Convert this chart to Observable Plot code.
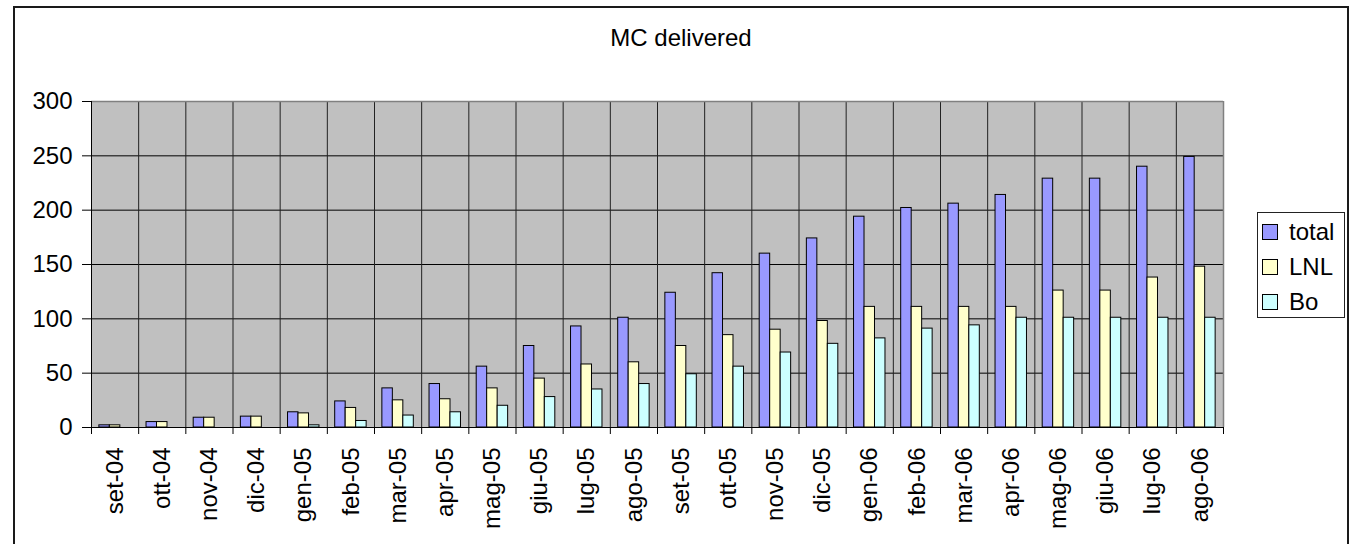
<!DOCTYPE html>
<html>
<head>
<meta charset="utf-8">
<script src="https://cdn.jsdelivr.net/npm/d3@7"></script>
<script src="https://cdn.jsdelivr.net/npm/@observablehq/plot@0.6"></script>
<style>
  html, body { margin: 0; padding: 0; background: #fff; }
  #wrap { position: relative; width: 1349px; height: 544px; overflow: hidden; font-family: "Liberation Sans", Arial, sans-serif; }
  #border { position: absolute; left: 13px; top: 6px; width: 1336px; height: 600px; box-sizing: border-box; border: 2px solid #1a1a1a; border-bottom: none; pointer-events: none; }
  #title { position: absolute; left: 0; top: 26px; width: 1362px; text-align: center; font-size: 24px; line-height: 24px; color: #000; }
  #legend { position: absolute; left: 1257px; top: 212px; width: 88px; height: 106px; box-sizing: border-box; border: 1px solid #222; background: #fff; padding-top: 1px; }
  .row { display: flex; align-items: center; height: 35px; font-size: 24px; color: #000; }
  .sw { width: 14px; height: 14px; border: 1px solid #000; margin-left: 4px; margin-right: 11px; }
  #chart { position: absolute; left: 0; top: 0; }
</style>
</head>
<body>
<div id="wrap">
  <div id="chart"></div>
  <div id="border"></div>
  <div id="title"></div>
  <div id="legend"></div>
</div>
<script>
const titleText = "MC delivered";
const months = ["set-04","ott-04","nov-04","dic-04","gen-05","feb-05","mar-05","apr-05","mag-05","giu-05","lug-05","ago-05","set-05","ott-05","nov-05","dic-05","gen-06","feb-06","mar-06","apr-06","mag-06","giu-06","lug-06","ago-06"];
const seriesNames = ["total", "LNL", "Bo"];
const seriesColors = ["#9999FF", "#FFFFCC", "#CCFFFF"];
const total = [2, 5, 9, 10, 14, 24, 36, 40, 56, 75, 93, 101, 124, 142, 160, 174, 194, 202, 206, 214, 229, 229, 240, 249];
const lnl   = [2, 5, 9, 10, 13, 18, 25, 26, 36, 45, 58, 60, 75, 85, 90, 98, 111, 111, 111, 111, 126, 126, 138, 148];
const bo    = [0, 0, 0, 0, 2, 6, 11, 14, 20, 28, 35, 40, 49, 56, 69, 77, 82, 91, 94, 101, 101, 101, 101, 101];
const yTicks = [0, 50, 100, 150, 200, 250, 300];

const seriesValues = [total, lnl, bo];
const data = [];
months.forEach((m, i) => {
  seriesNames.forEach((s, k) => {
    data.push({i, month: m, series: s, k, value: seriesValues[k][i]});
  });
});

// Excel-like grouping: gap width 150% -> bar width 1/4.5 of category
const barW = 1 / 4.5;
const gapW = barW * 0.75;

const n = months.length;
const plot = Plot.plot({
  width: 1349,
  height: 544,
  marginLeft: 91,
  marginRight: 126,
  marginTop: 101,
  marginBottom: 117,
  style: {fontFamily: "'Liberation Sans', Arial, sans-serif", fontSize: "24px", color: "#000", background: "transparent"},
  x: {type: "linear", domain: [0, n], axis: null, label: null},
  y: {domain: [0, 300], axis: null, label: null},
  color: {domain: seriesNames, range: seriesColors},
  marks: [
    Plot.frame({fill: "#C0C0C0", stroke: "none"}),
    Plot.ruleY(yTicks.filter(v => v > 0 && v < 300), {stroke: "#000", strokeWidth: 1}),
    Plot.ruleX(d3.range(1, n), {stroke: "#222", strokeWidth: 1}),
    Plot.ruleY([300], {stroke: "#808080", strokeWidth: 1.5}),
    Plot.ruleX([n], {stroke: "#808080", strokeWidth: 1.5}),
    Plot.rectY(data.filter(d => d.value > 0), {
      x1: d => d.i + gapW + d.k * barW,
      x2: d => d.i + gapW + (d.k + 1) * barW,
      y: "value",
      fill: "series",
      stroke: "#000",
      strokeWidth: 1
    }),
    Plot.ruleX([0], {stroke: "#000", strokeWidth: 1}),
    Plot.ruleY([0], {stroke: "#000", strokeWidth: 1}),
    Plot.axisY({ticks: yTicks, tickSize: 9, tickPadding: 10, tickFormat: d => String(d), label: null, stroke: "#000", strokeOpacity: 1}),
    Plot.axisX({ticks: d3.range(0, n + 1), tickSize: 7, tickFormat: () => "", label: null, stroke: "#000", strokeOpacity: 1}),
    Plot.axisX({ticks: d3.range(n).map(i => i + 0.5), tickSize: 0, tickPadding: 20, tickRotate: -90, label: null, tickFormat: v => months[Math.floor(v)]})
  ]
});
document.getElementById("chart").appendChild(plot);
document.getElementById("title").textContent = titleText;

const legend = document.getElementById("legend");
seriesNames.forEach((s, k) => {
  const row = document.createElement("div");
  row.className = "row";
  const sw = document.createElement("div");
  sw.className = "sw";
  sw.style.background = seriesColors[k];
  const t = document.createElement("span");
  t.textContent = s;
  row.appendChild(sw);
  row.appendChild(t);
  legend.appendChild(row);
});
</script>
</body>
</html>
